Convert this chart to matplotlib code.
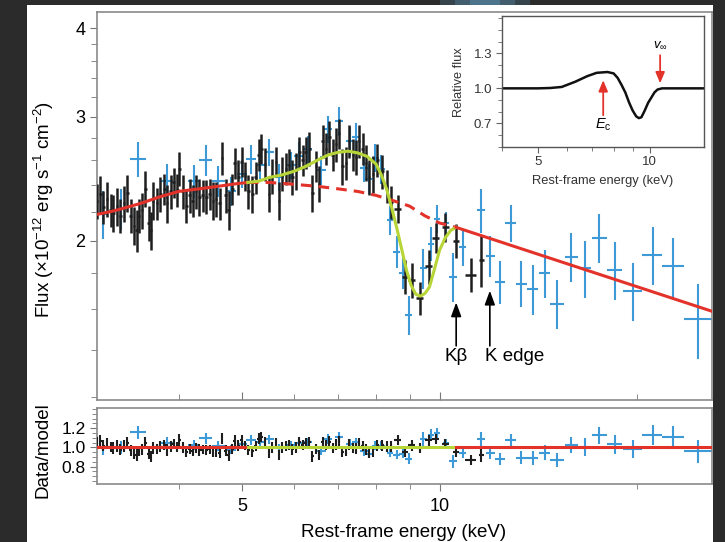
import numpy as np
import matplotlib
matplotlib.use('Agg')
import matplotlib.pyplot as plt
from matplotlib import ticker
from matplotlib.patches import Rectangle

plt.rcParams['font.family'] = ['Liberation Sans', 'DejaVu Sans']
plt.rcParams['mathtext.fontset'] = 'custom'
plt.rcParams['mathtext.rm'] = 'Liberation Sans'
plt.rcParams['mathtext.it'] = 'Liberation Sans:italic'

RED = '#e2322a'
GREEN = '#b7d536'
BLUE = '#3d9ad6'
BLACK = '#1e1e1e'

# XMM-Newton spectrum (black)
black_e = [3.00, 3.04, 3.07, 3.11, 3.15, 3.18, 3.22, 3.26, 3.30, 3.34,
           3.38, 3.42, 3.45, 3.48, 3.52, 3.56, 3.60, 3.63, 3.66, 3.71,
           3.75, 3.80, 3.84, 3.89, 3.93, 3.98, 4.01, 4.06, 4.11, 4.16,
           4.20, 4.25, 4.30, 4.35, 4.41, 4.46, 4.51, 4.56, 4.62, 4.66,
           4.72, 4.77, 4.83, 4.87, 4.93, 4.99, 5.05, 5.11, 5.18, 5.24,
           5.30, 5.35, 5.42, 5.49, 5.56, 5.63, 5.69, 5.76, 5.83, 5.89,
           5.96, 6.04, 6.11, 6.18, 6.25, 6.33, 6.40, 6.48, 6.55, 6.63,
           6.71, 6.79, 6.87, 6.95, 7.03, 7.11, 7.20, 7.28, 7.37, 7.46,
           7.54, 7.63, 7.72, 7.81, 7.92, 8.04, 8.18, 8.30, 8.43, 8.63,
           8.85, 9.07, 9.32, 9.63, 9.87, 10.2, 10.6, 11.15, 11.57]
black_f = [2.28, 2.33, 2.23, 2.29, 2.21, 2.19, 2.24, 2.17, 2.26, 2.34,
           2.17, 2.10, 2.07, 2.17, 2.21, 2.37, 2.12, 2.07, 2.28, 2.26,
           2.33, 2.37, 2.26, 2.35, 2.42, 2.36, 2.53, 2.35, 2.24, 2.32,
           2.28, 2.35, 2.31, 2.32, 2.31, 2.33, 2.28, 2.29, 2.26, 2.62,
           2.32, 2.21, 2.37, 2.58, 2.46, 2.59, 2.47, 2.35, 2.33, 2.46,
           2.65, 2.70, 2.57, 2.33, 2.47, 2.59, 2.28, 2.49, 2.53, 2.56,
           2.46, 2.51, 2.67, 2.60, 2.67, 2.70, 2.34, 2.55, 2.41, 2.77,
           2.70, 2.81, 2.65, 2.74, 2.84, 2.55, 2.58, 2.77, 2.65, 2.63,
           2.77, 2.70, 2.58, 2.46, 2.49, 2.60, 2.51, 2.39, 2.27, 2.22,
           1.78, 1.76, 1.66, 1.84, 2.02, 2.09, 2.00, 1.79, 1.88]
black_yerr = [0.13, 0.14, 0.12, 0.13, 0.12, 0.13, 0.14, 0.12, 0.13, 0.14,
              0.12, 0.13, 0.14, 0.12, 0.13, 0.14, 0.12, 0.13, 0.14, 0.12,
              0.13, 0.12, 0.14, 0.13, 0.12, 0.13, 0.14, 0.13, 0.12, 0.13,
              0.12, 0.13, 0.14, 0.12, 0.13, 0.12, 0.14, 0.13, 0.12, 0.14,
              0.13, 0.14, 0.12, 0.13, 0.14, 0.13, 0.12, 0.13, 0.14, 0.13,
              0.14, 0.13, 0.14, 0.13, 0.14, 0.13, 0.14, 0.14, 0.13, 0.14,
              0.14, 0.15, 0.14, 0.13, 0.14, 0.15, 0.14, 0.13, 0.14, 0.15,
              0.14, 0.15, 0.14, 0.15, 0.14, 0.15, 0.14, 0.15, 0.14, 0.15,
              0.15, 0.14, 0.15, 0.14, 0.15, 0.14, 0.14, 0.13, 0.12, 0.10,
              0.10, 0.10, 0.09, 0.10, 0.10, 0.10, 0.11, 0.10, 0.16]
black_xerr = [0.015, 0.015, 0.015, 0.015, 0.015, 0.015, 0.015, 0.015, 0.015, 0.015,
              0.015, 0.015, 0.015, 0.015, 0.015, 0.015, 0.015, 0.015, 0.015, 0.015,
              0.02, 0.02, 0.02, 0.02, 0.02, 0.02, 0.02, 0.02, 0.02, 0.02,
              0.02, 0.02, 0.02, 0.02, 0.02, 0.02, 0.02, 0.02, 0.02, 0.02,
              0.025, 0.025, 0.025, 0.025, 0.025, 0.025, 0.025, 0.025, 0.025, 0.025,
              0.025, 0.025, 0.025, 0.025, 0.025, 0.025, 0.025, 0.025, 0.025, 0.025,
              0.03, 0.03, 0.03, 0.03, 0.03, 0.03, 0.03, 0.03, 0.03, 0.03,
              0.03, 0.03, 0.03, 0.03, 0.03, 0.03, 0.03, 0.03, 0.03, 0.03,
              0.035, 0.035, 0.035, 0.035, 0.035, 0.035, 0.035, 0.035, 0.07, 0.10,
              0.10, 0.11, 0.13, 0.12, 0.12, 0.12, 0.12, 0.20, 0.10]

# NuSTAR spectrum (blue)
blue_e = [3.07, 3.27, 3.47, 3.84, 4.22, 4.40, 4.60, 4.81, 5.00, 5.15,
          5.33, 5.50, 5.70, 5.93, 6.10, 6.29, 6.60, 6.75, 7.03, 7.29,
          7.45, 7.67, 7.80, 7.98, 8.15, 8.40, 8.60, 8.78, 8.97, 9.45,
          9.70, 9.90, 10.22, 10.47, 10.84, 11.57, 11.95, 12.38, 12.85, 13.33,
          13.86, 14.46, 15.11, 15.89, 16.65, 17.51, 18.50, 19.71, 21.13, 22.72,
          24.80]
blue_f = [2.18, 2.22, 2.61, 2.43, 2.43, 2.60, 2.43, 2.35, 2.49, 2.61,
          2.56, 2.67, 2.46, 2.56, 2.64, 2.70, 2.52, 2.88, 2.96, 2.77,
          2.81, 2.54, 2.45, 2.62, 2.53, 2.14, 1.93, 1.80, 1.57, 1.83,
          1.98, 2.15, 2.12, 1.78, 1.96, 2.21, 1.905, 1.75, 2.12, 1.74,
          1.71, 1.80, 1.63, 1.90, 1.83, 2.02, 1.82, 1.70, 1.91, 1.84,
          1.55]
blue_yerr = [0.17, 0.15, 0.15, 0.14, 0.13, 0.13, 0.12, 0.11, 0.11, 0.12,
             0.11, 0.12, 0.11, 0.11, 0.12, 0.12, 0.12, 0.13, 0.14, 0.13,
             0.13, 0.12, 0.12, 0.12, 0.12, 0.10, 0.10, 0.09, 0.10, 0.12,
             0.11, 0.10, 0.08, 0.14, 0.12, 0.16, 0.13, 0.12, 0.13, 0.13,
             0.14, 0.14, 0.13, 0.15, 0.17, 0.16, 0.17, 0.16, 0.18, 0.18,
             0.19]
blue_xerr = [0.05, 0.06, 0.10, 0.08, 0.09, 0.10, 0.10, 0.09, 0.09, 0.09,
             0.09, 0.09, 0.09, 0.10, 0.10, 0.10, 0.10, 0.10, 0.10, 0.10,
             0.10, 0.10, 0.10, 0.10, 0.10, 0.10, 0.10, 0.10, 0.10, 0.11,
             0.11, 0.11, 0.11, 0.15, 0.14, 0.15, 0.20, 0.22, 0.25, 0.25,
             0.29, 0.30, 0.36, 0.37, 0.39, 0.46, 0.50, 0.64, 0.74, 0.86,
             1.20]

# best-fit model pieces
cont_lo_e = [3.0, 3.15, 3.3, 3.5, 3.75, 4.0, 4.3, 4.6, 4.9, 5.1]
cont_lo_f = [2.18, 2.20, 2.225, 2.26, 2.31, 2.35, 2.37, 2.39, 2.41, 2.42]
wind_e = [5.1, 5.3, 5.5, 5.75, 6.0, 6.25, 6.5, 6.75, 7.0, 7.25, 7.5, 7.75,
          8.0, 8.15, 8.3, 8.45, 8.6, 8.75, 8.9, 9.05, 9.2, 9.35, 9.5, 9.65,
          9.8, 10.0, 10.2, 10.4, 10.6]
wind_f = [2.42, 2.43, 2.46, 2.48, 2.51, 2.55, 2.60, 2.645, 2.67, 2.68, 2.665, 2.635,
          2.57, 2.48, 2.37, 2.23, 2.09, 1.95, 1.82, 1.73, 1.68, 1.67, 1.685, 1.72,
          1.81, 1.94, 2.02, 2.07, 2.09]
cont_mid_e = [5.1, 5.5, 6.0, 6.5, 7.0, 7.5, 8.0, 8.5, 9.0, 9.5, 10.0, 10.6]
cont_mid_f = [2.42, 2.42, 2.405, 2.39, 2.37, 2.35, 2.32, 2.28, 2.24, 2.17, 2.12, 2.09]
cont_hi_e = [10.6, 26.0]
cont_hi_f = [2.09, 1.59]

# inset: relative P-Cygni profile
inset_e = [4.0, 5.0, 5.4, 5.8, 6.3, 6.8, 7.2, 7.7, 8.0, 8.2, 8.4, 8.6, 8.8, 9.0,
           9.2, 9.35, 9.5, 9.7, 9.9, 10.1, 10.3, 10.5, 10.8, 14.0]
inset_f = [1.0, 1.0, 1.003, 1.012, 1.056, 1.105, 1.133, 1.14, 1.128, 1.09, 1.03, 0.965, 0.88, 0.81,
           0.76, 0.745, 0.752, 0.81, 0.875, 0.92, 0.965, 0.99, 1.0, 1.0]

flux_ticks = [2, 3, 4]
flux_minor = [1.2, 1.4, 1.6, 1.8, 2.2, 2.4, 2.6, 2.8, 3.2, 3.4, 3.6, 3.8]
energy_ticks = [5, 10]
energy_minor = [4, 6, 7, 8, 9, 20]
ratio_ticks = [0.8, 1.0, 1.2]
inset_yticks = [0.7, 1.0, 1.3]
inset_minor = [4, 6, 7, 8, 9]

# ratio = data / model
model_e = cont_lo_e + wind_e[1:] + cont_hi_e[1:]
model_f = cont_lo_f + wind_f[1:] + cont_hi_f[1:]


def model_at(e):
    return 10 ** np.interp(np.log10(e), np.log10(model_e), np.log10(model_f))


black_m = model_at(black_e)
blue_m = model_at(blue_e)

W, H = 725, 542


def box(left, top, right, bottom):
    return [left / W, 1 - bottom / H, (right - left) / W, (bottom - top) / H]


fig = plt.figure(figsize=(W / 100, H / 100), dpi=100, facecolor='#2b2b2b')
fig.patches.append(Rectangle((27 / W, 0), (713 - 27) / W, (H - 5) / H, transform=fig.transFigure,
                             facecolor='white', edgecolor='none', zorder=-10))
# faint blue glow in the dark frame at the top
for x0, w, a in [(440, 90, 0.25), (455, 60, 0.35), (470, 30, 0.45)]:
    fig.patches.append(Rectangle((x0 / W, (H - 5) / H), w / W, 5 / H, transform=fig.transFigure,
                                 facecolor='#5a8fb0', edgecolor='none', alpha=a, zorder=-10))

ax = fig.add_axes(box(96.7, 12, 711.7, 400))
ax2 = fig.add_axes(box(96.7, 408, 711.7, 484))
axi = fig.add_axes(box(501.7, 16, 704, 146.7))

# main spectrum
ax.errorbar(blue_e, blue_f, yerr=blue_yerr, xerr=blue_xerr, fmt='none', ecolor=BLUE, elinewidth=1.5, zorder=2)
ax.errorbar(black_e, black_f, yerr=black_yerr, xerr=black_xerr, fmt='none', ecolor=BLACK, elinewidth=1.8, zorder=3)
ax.plot(cont_lo_e, cont_lo_f, color=RED, lw=2.2, zorder=5)
ax.plot(cont_mid_e, cont_mid_f, color=RED, lw=2.2, ls=(0, (3.5, 2.3)), zorder=4)
ax.plot(wind_e, wind_f, color=GREEN, lw=2.2, zorder=5)
ax.plot(cont_hi_e, cont_hi_f, color=RED, lw=2.2, zorder=5)

ax.set_xscale('log')
ax.set_yscale('log')
ax.set_xlim(3, 26)
ax.set_ylim(1.19, 4.22)
ax.yaxis.set_major_locator(ticker.FixedLocator(flux_ticks))
ax.yaxis.set_major_formatter(ticker.FixedFormatter([str(t) for t in flux_ticks]))
ax.yaxis.set_minor_locator(ticker.FixedLocator(flux_minor))
ax.yaxis.set_minor_formatter(ticker.NullFormatter())
ax.xaxis.set_major_locator(ticker.FixedLocator(energy_ticks))
ax.xaxis.set_minor_locator(ticker.FixedLocator(energy_minor))
ax.tick_params(axis='x', which='both', direction='in', labelbottom=False, color='#777777')
ax.tick_params(axis='x', which='major', length=6)
ax.tick_params(axis='x', which='minor', length=4)
ax.tick_params(axis='y', which='major', direction='out', length=5, labelsize=13, pad=3, color='#777777')
ax.tick_params(axis='y', which='minor', direction='out', length=4, color='#777777')

ax.annotate('', xy=(10.6, 1.636), xytext=(10.6, 1.42),
            arrowprops=dict(arrowstyle='-|>,head_length=0.6,head_width=0.22', color='black',
                            lw=1.2, mutation_scale=14, shrinkA=0, shrinkB=0))
ax.annotate('', xy=(11.93, 1.70), xytext=(11.93, 1.42),
            arrowprops=dict(arrowstyle='-|>,head_length=0.6,head_width=0.22', color='black',
                            lw=1.2, mutation_scale=14, shrinkA=0, shrinkB=0))
ax.text(10.6, 1.35, 'Kβ', ha='center', va='baseline', fontsize=13.5)
ax.text(11.72, 1.35, 'K edge', ha='left', va='baseline', fontsize=13.5)

# residuals
ax2.errorbar(blue_e, np.array(blue_f) / blue_m, yerr=np.array(blue_yerr) / blue_m, xerr=blue_xerr,
             fmt='none', ecolor=BLUE, elinewidth=1.5, zorder=2)
ax2.errorbar(black_e, np.array(black_f) / black_m, yerr=np.array(black_yerr) / black_m, xerr=black_xerr,
             fmt='none', ecolor=BLACK, elinewidth=1.5, zorder=3)
ax2.plot([cont_lo_e[0], cont_lo_e[-1]], [1, 1], color=RED, lw=2.2, zorder=5)
ax2.plot([wind_e[0], wind_e[-1]], [1, 1], color=GREEN, lw=2.2, zorder=5)
ax2.plot([cont_hi_e[0], cont_hi_e[-1]], [1, 1], color=RED, lw=2.2, zorder=5)
ax2.set_xscale('log')
ax2.set_xlim(3, 26)
ax2.set_ylim(0.62, 1.41)
ax2.xaxis.set_major_locator(ticker.FixedLocator(energy_ticks))
ax2.xaxis.set_major_formatter(ticker.FixedFormatter([str(t) for t in energy_ticks]))
ax2.xaxis.set_minor_locator(ticker.FixedLocator(energy_minor))
ax2.xaxis.set_minor_formatter(ticker.NullFormatter())
ax2.yaxis.set_major_locator(ticker.FixedLocator(ratio_ticks))
ax2.yaxis.set_major_formatter(ticker.FixedFormatter(['%.1f' % t for t in ratio_ticks]))
ax2.yaxis.set_minor_locator(ticker.MultipleLocator(0.05))
ax2.tick_params(axis='both', which='major', direction='out', length=5, color='#777777')
ax2.tick_params(axis='both', which='minor', direction='out', length=3.5, color='#777777')
ax2.tick_params(axis='x', which='major', labelsize=13, pad=5)
ax2.tick_params(axis='y', which='major', labelsize=12.5, pad=3)

# inset
axi.plot(inset_e, inset_f, color='#111111', lw=1.8)
axi.set_xscale('log')
axi.set_xlim(4, 14)
axi.set_ylim(0.5, 1.62)
axi.xaxis.set_major_locator(ticker.FixedLocator(energy_ticks))
axi.xaxis.set_major_formatter(ticker.FixedFormatter([str(t) for t in energy_ticks]))
axi.xaxis.set_minor_locator(ticker.FixedLocator(inset_minor))
axi.xaxis.set_minor_formatter(ticker.NullFormatter())
axi.yaxis.set_major_locator(ticker.FixedLocator(inset_yticks))
axi.yaxis.set_major_formatter(ticker.FixedFormatter(['%.1f' % t for t in inset_yticks]))
axi.yaxis.set_minor_locator(ticker.MultipleLocator(0.1))
axi.tick_params(axis='both', which='major', direction='out', length=4, labelsize=9.5, pad=3,
                color='#666666', labelcolor='#333333')
axi.tick_params(axis='both', which='minor', direction='out', length=3, color='#666666')
axi.annotate('', xy=(7.5, 1.07), xytext=(7.5, 0.77),
             arrowprops=dict(arrowstyle='-|>,head_length=0.6,head_width=0.25', color=RED,
                             lw=1.3, mutation_scale=11, shrinkA=0, shrinkB=0))
axi.annotate('', xy=(10.67, 1.043), xytext=(10.67, 1.284),
             arrowprops=dict(arrowstyle='-|>,head_length=0.6,head_width=0.25', color=RED,
                             lw=1.3, mutation_scale=11, shrinkA=0, shrinkB=0))
axi.text(7.5, 0.69, r'$\mathit{E}_{\mathregular{c}}$', ha='center', va='center', fontsize=10.5)
axi.text(10.67, 1.37, r'$\mathit{v}_{\infty}$', ha='center', va='center', fontsize=9.5)

for a in (ax, ax2):
    for s in a.spines.values():
        s.set_color('#8a8a8a')
        s.set_linewidth(1.2)
for s in axi.spines.values():
    s.set_color('#555555')
    s.set_linewidth(1.0)

# axis titles
fig.text(44 / W, 1 - 209 / H, 'Flux (×10$^{\\mathregular{-12}}$ erg s$^{\\mathregular{-1}}$ cm$^{\\mathregular{-2}}$)',
         rotation=90, ha='center', va='center', fontsize=13.5)
fig.text(43 / W, 1 - 450 / H, 'Data/model', rotation=90, ha='center', va='center', fontsize=13.5)
fig.text(404 / W, 1 - 537 / H, 'Rest-frame energy (keV)', ha='center', va='baseline', fontsize=13.5)
fig.text(603 / W, 1 - 181 / H, 'Rest-frame energy (keV)', ha='center', va='center', fontsize=9.3, color='#333333')
fig.text(459 / W, 1 - 82 / H, 'Relative flux', rotation=90, ha='center', va='center', fontsize=9.2,
         color='#333333')

fig.savefig('out.png', dpi=100, facecolor=fig.get_facecolor())
